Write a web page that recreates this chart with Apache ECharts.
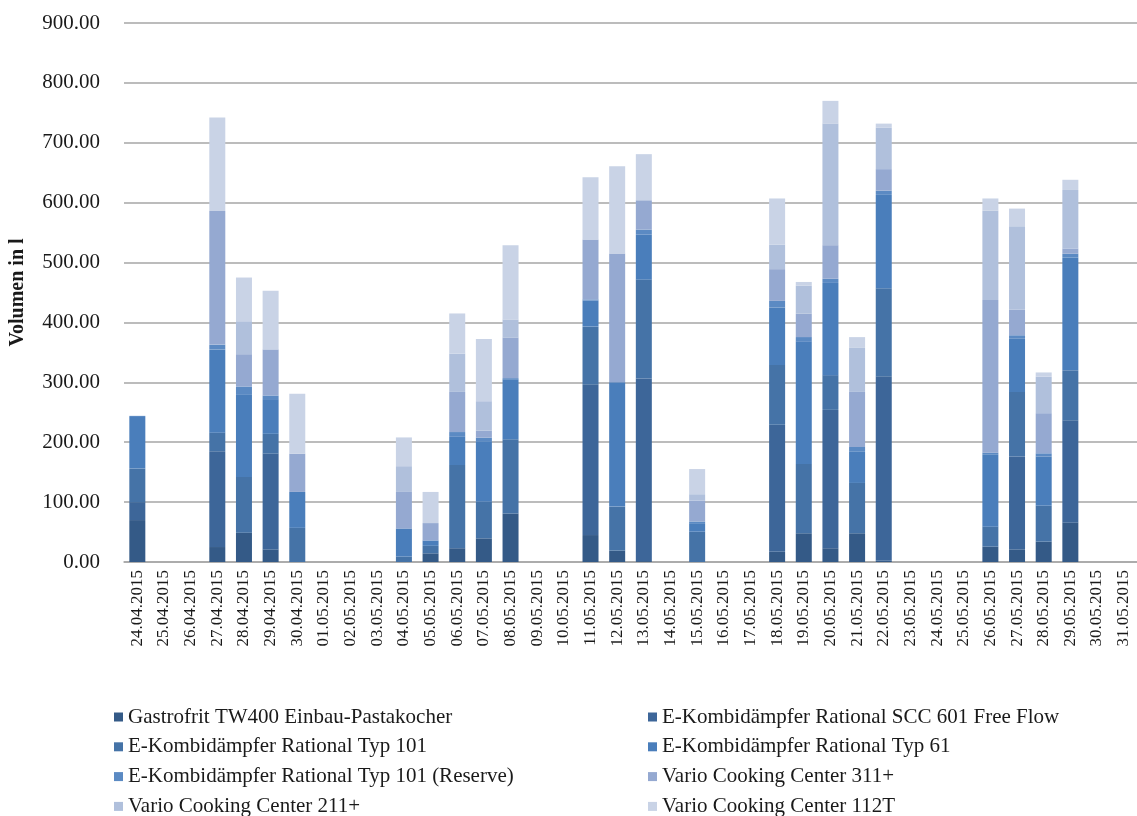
<!DOCTYPE html>
<html>
<head>
<meta charset="utf-8">
<script src="https://cdn.jsdelivr.net/npm/echarts@6/dist/echarts.min.js"></script>
<style>
html,body{margin:0;padding:0;background:#fff;}
#chart{width:1137px;height:816px;}
</style>
</head>
<body>
<div id="chart"></div>
<script>
const categories = ["24.04.2015","25.04.2015","26.04.2015","27.04.2015","28.04.2015","29.04.2015","30.04.2015",
"01.05.2015","02.05.2015","03.05.2015","04.05.2015","05.05.2015","06.05.2015","07.05.2015","08.05.2015","09.05.2015",
"10.05.2015","11.05.2015","12.05.2015","13.05.2015","14.05.2015","15.05.2015","16.05.2015","17.05.2015","18.05.2015",
"19.05.2015","20.05.2015","21.05.2015","22.05.2015","23.05.2015","24.05.2015","25.05.2015","26.05.2015","27.05.2015",
"28.05.2015","29.05.2015","30.05.2015","31.05.2015"];

const seriesNames = ["Gastrofrit TW400 Einbau-Pastakocher","E-Kombidämpfer Rational SCC 601 Free Flow",
"E-Kombidämpfer Rational Typ 101","E-Kombidämpfer Rational Typ 61","E-Kombidämpfer Rational Typ 101 (Reserve)",
"Vario Cooking Center 311+","Vario Cooking Center 211+","Vario Cooking Center 112T"];

//                      24.04 25 26  27    28    29   30  01 02 03 04.05 05   06   07    08  09 10  11    12    13  14 15.05 16 17 18   19    20   21    22  23 24 25  26    27   28   29.05 30 31
const gastrofrit   = [70, 0, 0, 25,   49,  21,  0,  0, 0, 0, 0,  14.5, 23, 39.5,  81, 0, 0, 45,   19,  1.5, 0, 0,    0, 0, 17,  48,  23,  48,   2,  0, 0, 0, 25.6, 21,  34,  65.6, 0, 0];
const scc601       = [30, 0, 0, 160,  0,   160, 0,  0, 0, 0, 0,  0,    0,  0,     0,  0, 0, 252,  0,   305, 0, 0,    0, 0, 212, 0,   231, 0,    308,0, 0, 0, 0,    155, 0,   171,  0, 0];
const typ101       = [56, 0, 0, 31,   93,  33,  57, 0, 0, 0, 9,  12.5, 139,61,    124,0, 0, 96,   73.5,165, 0, 50.6, 0, 0, 100, 115.6,58, 84,   147,0, 0, 0, 33.4, 108, 60,  83.5, 0, 0];
const typ61        = [86, 0, 0, 139,  137, 58,  60, 0, 0, 0, 47, 9,    47, 100,   100,0, 0, 43.5, 207.5,75,  0, 13,   0, 0, 96,  204, 154, 52,   156,0, 0, 0, 121,  89,  82,  188,  0, 0];
const typ101res    = [2,  0, 0, 8,    14,  6,   0,  0, 0, 0, 0,  0,    8,  7,     2,  0, 0, 2,    0,   8.5, 0, 4,    0, 0, 11,  8,   7,   8,    7,  0, 0, 0, 2.5,  5.6, 5.5, 6.7,  0, 0];
const vcc311       = [0,  0, 0, 223,  54,  77,  64, 0, 0, 0, 61, 29,   67, 12,    68, 0, 0, 100,  215, 49,  0, 35,   0, 0, 53,  39,  56,  92,   36, 0, 0, 0, 255,  43,  67,  8.4,  0, 0];
const vcc211       = [0,  0, 0, 0,    55,  0,   0,  0, 0, 0, 43, 0,    64, 49,    30, 0, 0, 0,    0,   0,   0, 10.6, 0, 0, 41,  47,  203, 73.5, 69, 0, 0, 0, 149,  139, 61,  98,   0, 0];
const vcc112t      = [0,  0, 0, 156,  73,  98,  100,0, 0, 0, 48, 52,   67, 104,   124,0, 0, 104,  146, 77,  0, 42,   0, 0, 77,  6,   38,  18,   7,  0, 0, 0, 20.5, 29.5,7,   17,   0, 0];

const yTicks = [0,100,200,300,400,500,600,700,800,900];

const seriesData = [gastrofrit, scc601, typ101, typ61, typ101res, vcc311, vcc211, vcc112t];
const colors = ["#345a87","#3d6699","#4573a7","#4a7ebb","#5b8ac3","#95a9d1","#b0c0dc","#c9d3e6"];

const FONT = "Liberation Serif";
const chart = echarts.init(document.getElementById('chart'), null, {renderer:'canvas'});

const legendCommon = {
  orient: 'vertical',
  itemWidth: 9, itemHeight: 9, itemGap: 8.8,
  icon: 'rect',
  padding: 0,
  textStyle: {fontFamily: FONT, fontSize: 21, color: '#1a1a1a', lineHeight: 21},
  selectedMode: false,
  top: 706.5,
  height: 200
};

chart.setOption({
  animation: false,
  color: colors,
  grid: {left: 116, top: 23, width: 1033, height: 539, containLabel: false},
  legend: [
    Object.assign({}, legendCommon, {left: 114, data: [seriesNames[0], seriesNames[2], seriesNames[4], seriesNames[6]]}),
    Object.assign({}, legendCommon, {left: 648, data: [seriesNames[1], seriesNames[3], seriesNames[5], seriesNames[7]]})
  ],
  xAxis: {
    type: 'category',
    data: categories,
    axisLine: {lineStyle: {color: '#a6a6a6', width: 1.5}},
    axisTick: {show: false},
    axisLabel: {rotate: 90, interval: 0, margin: 8, fontFamily: FONT, fontSize: 17, color: '#1a1a1a'}
  },
  yAxis: {
    type: 'value',
    min: yTicks[0], max: yTicks[yTicks.length-1], interval: 100,
    name: 'Volumen in l',
    nameLocation: 'middle',
    nameGap: 96,
    nameTextStyle: {fontFamily: FONT, fontSize: 20, fontWeight: 'bold', color: '#1a1a1a'},
    axisLine: {show: false},
    axisTick: {show: false},
    splitLine: {lineStyle: {color: '#a6a6a6', width: 1.5}},
    axisLabel: {margin: 24, fontFamily: FONT, fontSize: 21, color: '#1a1a1a', formatter: v => v.toFixed(2)}
  },
  series: seriesNames.map((n, i) => ({
    name: n,
    type: 'bar',
    stack: 'total',
    barWidth: 16,
    data: seriesData[i],
    itemStyle: {color: colors[i]}
  }))
});
</script>
</body>
</html>
